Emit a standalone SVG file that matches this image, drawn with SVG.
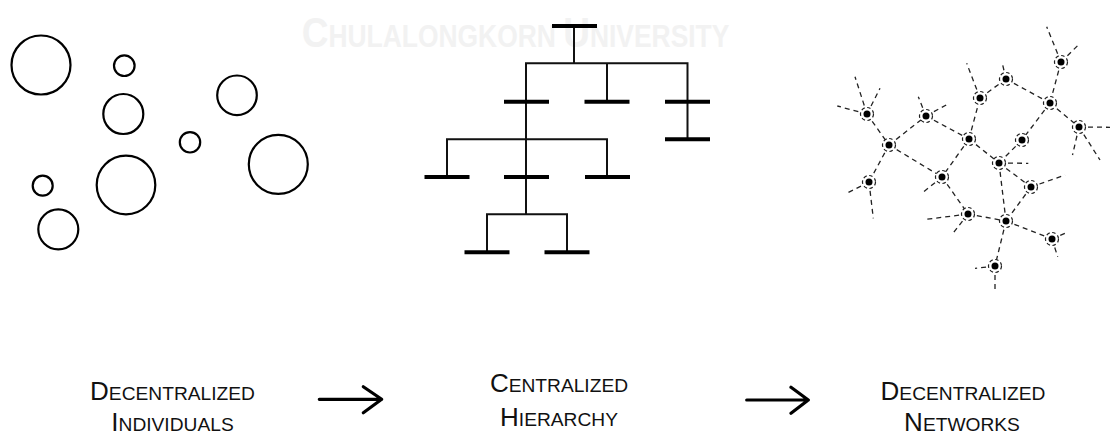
<svg xmlns="http://www.w3.org/2000/svg" width="1110" height="435" viewBox="0 0 1110 435">
<style>
.wm{font-family:"Liberation Sans",Arial,sans-serif;font-weight:bold;fill:#f2f2f2}
.bub{fill:none;stroke:#000;stroke-width:2.2}
.bar{stroke:#000;stroke-width:4;stroke-linecap:butt}
.tl{fill:none;stroke:#111;stroke-width:2;stroke-linecap:square}
.edge{fill:none;stroke:#222;stroke-width:1.3;stroke-dasharray:5 4}
.ring{fill:#fff;stroke:#222;stroke-width:1.2;stroke-dasharray:3.5 2.5}
.dot{fill:#000}
.lbl{font-family:"Liberation Sans",Arial,sans-serif;font-size:19.2px;fill:#111;text-anchor:middle}
.big{font-size:26px}
.arr{fill:none;stroke:#000;stroke-width:3.2;stroke-linecap:round;stroke-linejoin:round}
</style>
<rect width="1110" height="435" fill="#fff"/>
<g id="watermark" transform="translate(301.7 46.5) scale(0.861 1)">
<text class="wm" x="0" y="0"><tspan font-size="43">C</tspan><tspan font-size="30.7">HULALONGKORN </tspan><tspan font-size="43">U</tspan><tspan font-size="30.7">NIVERSITY</tspan></text>
</g>
<g id="individuals">
<circle id="b1" class="bub" cx="41" cy="65" r="29.5"/>
<circle id="b2" class="bub" cx="124.3" cy="65.7" r="10.3"/>
<circle id="b3" class="bub" cx="123.3" cy="114" r="20"/>
<circle id="b4" class="bub" cx="237" cy="95.3" r="19.8"/>
<circle id="b5" class="bub" cx="190" cy="142.3" r="10.2"/>
<circle id="b6" class="bub" cx="278.3" cy="164.3" r="29.5"/>
<circle id="b7" class="bub" cx="126" cy="185" r="29.3"/>
<circle id="b8" class="bub" cx="42.7" cy="185.7" r="10"/>
<circle id="b9" class="bub" cx="58.3" cy="229.3" r="20"/>
</g>
<g id="hierarchy">
<g id="tree-connectors">
<path class="tl" d="M574 26V63.3M526 63.3H687.5M526 63.3V214.3M607 63.3V101.7M687.5 63.3V139.3M447 139.3H607M447 139.3V177M607 139.3V177M487 214.3H567M487 214.3V252.3M567 214.3V252.3"/>
</g>
<g id="t0"><line class="bar" x1="552" y1="26" x2="597" y2="26"/></g>
<g id="t1"><line class="bar" x1="504" y1="101.7" x2="549" y2="101.7"/></g>
<g id="t2"><line class="bar" x1="584.5" y1="101.7" x2="629.5" y2="101.7"/></g>
<g id="t3"><line class="bar" x1="665" y1="101.7" x2="710" y2="101.7"/></g>
<g id="t4"><line class="bar" x1="665" y1="139.3" x2="710" y2="139.3"/></g>
<g id="t5"><line class="bar" x1="424.5" y1="177" x2="469.5" y2="177"/></g>
<g id="t6"><line class="bar" x1="504" y1="177" x2="549" y2="177"/></g>
<g id="t7"><line class="bar" x1="585" y1="177" x2="630" y2="177"/></g>
<g id="t8"><line class="bar" x1="464.5" y1="252.3" x2="509.5" y2="252.3"/></g>
<g id="t9"><line class="bar" x1="544.5" y1="252.3" x2="589.5" y2="252.3"/></g>
</g>
<g id="network">
<g id="connectors">
<path class="edge" d="M867 114L889 145M889 145L926 116M926 116L969 139M889 145L869 182M889 145L942 177M969 139L980 98M969 139L942 177M969 139L999 163M980 98L1006 79M1006 79L1050 103M1061 62L1050 103M1050 103L1022 140M1050 103L1079 127M1022 140L999 163M999 163L1031 187M999 163L1006 221M1031 187L1006 221M942 177L968 214M968 214L1006 221M1006 221L1052 239M1006 221L995 266"/>
<path class="edge" d="M867 114L855 76.7M867 114L880 88.3M867 114L837.3 106M926 116L918.3 96.7M926 116L949.3 103.3M980 98L966.7 63.3M1006 79L1002.7 65M1061 62L1046.7 26.7M1061 62L1079 44.3M1079 127L1110 127.3M1079 127L1072.5 155M1079 127L1100 160M869 182L846.7 193.3M869 182L873.3 218.3M942 177L921.7 193.3M968 214L926.7 219.3M968 214L951.7 235M999 163L1028.3 163.3M1031 187L1065 175M1052 239L1065 233.3M1052 239L1057.7 256.7M995 266L975 268.3M995 266L995 291.7"/>
</g>
<g id="n1"><circle class="ring" cx="867" cy="114" r="6.5"/><circle class="dot" cx="867" cy="114" r="3.5"/></g>
<g id="n2"><circle class="ring" cx="926" cy="116" r="6.5"/><circle class="dot" cx="926" cy="116" r="3.5"/></g>
<g id="n3"><circle class="ring" cx="889" cy="145" r="6.5"/><circle class="dot" cx="889" cy="145" r="3.5"/></g>
<g id="n4"><circle class="ring" cx="969" cy="139" r="6.5"/><circle class="dot" cx="969" cy="139" r="3.5"/></g>
<g id="n5"><circle class="ring" cx="980" cy="98" r="6.5"/><circle class="dot" cx="980" cy="98" r="3.5"/></g>
<g id="n6"><circle class="ring" cx="1006" cy="79" r="6.5"/><circle class="dot" cx="1006" cy="79" r="3.5"/></g>
<g id="n7"><circle class="ring" cx="1061" cy="62" r="6.5"/><circle class="dot" cx="1061" cy="62" r="3.5"/></g>
<g id="n8"><circle class="ring" cx="1050" cy="103" r="6.5"/><circle class="dot" cx="1050" cy="103" r="3.5"/></g>
<g id="n9"><circle class="ring" cx="1079" cy="127" r="6.5"/><circle class="dot" cx="1079" cy="127" r="3.5"/></g>
<g id="n10"><circle class="ring" cx="1022" cy="140" r="6.5"/><circle class="dot" cx="1022" cy="140" r="3.5"/></g>
<g id="n11"><circle class="ring" cx="869" cy="182" r="6.5"/><circle class="dot" cx="869" cy="182" r="3.5"/></g>
<g id="n12"><circle class="ring" cx="942" cy="177" r="6.5"/><circle class="dot" cx="942" cy="177" r="3.5"/></g>
<g id="n13"><circle class="ring" cx="968" cy="214" r="6.5"/><circle class="dot" cx="968" cy="214" r="3.5"/></g>
<g id="n14"><circle class="ring" cx="999" cy="163" r="6.5"/><circle class="dot" cx="999" cy="163" r="3.5"/></g>
<g id="n15"><circle class="ring" cx="1031" cy="187" r="6.5"/><circle class="dot" cx="1031" cy="187" r="3.5"/></g>
<g id="n16"><circle class="ring" cx="1006" cy="221" r="6.5"/><circle class="dot" cx="1006" cy="221" r="3.5"/></g>
<g id="n17"><circle class="ring" cx="1052" cy="239" r="6.5"/><circle class="dot" cx="1052" cy="239" r="3.5"/></g>
<g id="n18"><circle class="ring" cx="995" cy="266" r="6.5"/><circle class="dot" cx="995" cy="266" r="3.5"/></g>
</g>
<g id="labels">
<g id="label-individuals">
<text class="lbl" x="172.5" y="399.5"><tspan class="big">D</tspan>ECENTRALIZED</text>
<text class="lbl" x="172.5" y="430.5"><tspan class="big">I</tspan>NDIVIDUALS</text>
</g>
<g id="label-hierarchy">
<text class="lbl" x="559" y="391.7"><tspan class="big">C</tspan>ENTRALIZED</text>
<text class="lbl" x="559" y="425.7"><tspan class="big">H</tspan>IERARCHY</text>
</g>
<g id="label-networks">
<text class="lbl" x="963" y="399.5"><tspan class="big">D</tspan>ECENTRALIZED</text>
<text class="lbl" x="962" y="430.5"><tspan class="big">N</tspan>ETWORKS</text>
</g>
</g>
<g id="arrows">
<path class="arr" d="M319.3 399.3H381.7M363.3 386.7L381.7 399.3L363.3 412.7"/>
<path class="arr" d="M746.7 400H808.3M791 387.3L808.3 400L791 413.3"/>
</g>
</svg>
